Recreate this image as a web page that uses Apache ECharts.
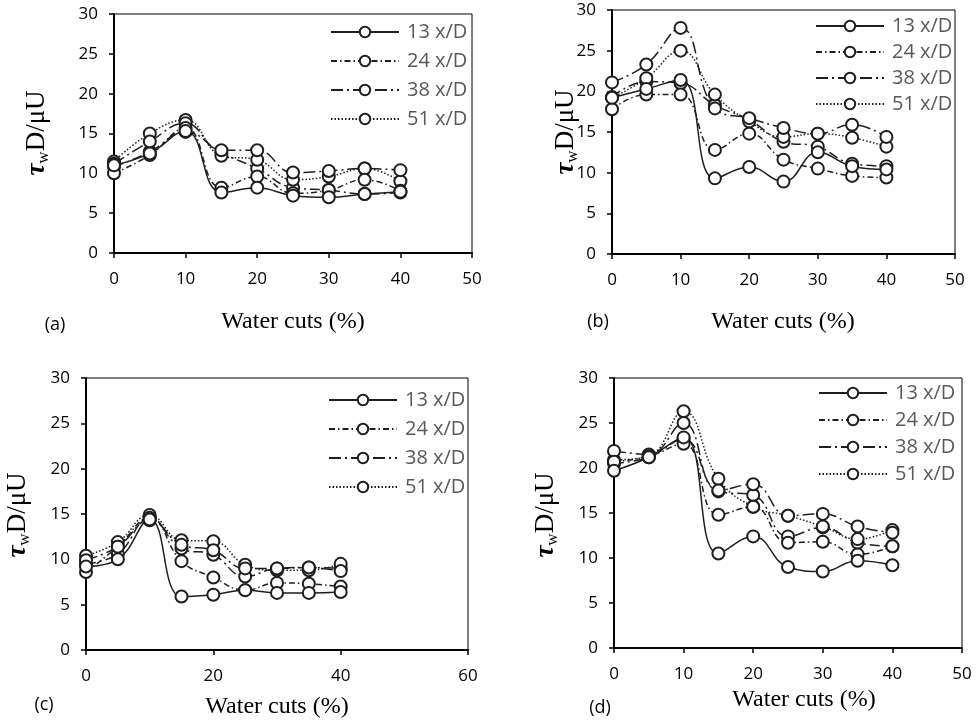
<!DOCTYPE html>
<html>
<head>
<meta charset="utf-8">
<script src="https://cdn.jsdelivr.net/npm/echarts@6/dist/echarts.min.js"></script>
<style>
  html, body { margin: 0; padding: 0; background: #fff; }
  #chart { width: 977px; height: 722px; }
</style>
</head>
<body>
<div id="chart"></div>
<script>
// x values (water cut, %)
const waterCuts = [0, 5, 10, 15, 20, 25, 30, 35, 40];
const seriesNames = ["13 x/D", "24 x/D", "38 x/D", "51 x/D"];
const yTicks = [0, 5, 10, 15, 20, 25, 30];

// panel (a)
const a13 = [11.0, 12.5, 15.3, 7.6, 8.2, 7.2, 7.0, 7.4, 7.7];
const a24 = [10.0, 12.3, 15.7, 8.2, 9.6, 7.5, 7.9, 9.2, 7.8];
const a38 = [11.2, 14.0, 16.3, 12.9, 12.9, 10.1, 10.3, 10.6, 10.4];
const a51 = [11.5, 15.0, 16.7, 12.2, 11.7, 9.2, 9.6, 10.6, 9.0];
const aX = [10.8, 12.7, 15.2, 12.6, 10.6, 8.2, 7.9, 7.4, 7.6];

// panel (b)
const b13 = [19.2, 20.3, 21.4, 9.3, 10.7, 8.9, 12.5, 10.8, 10.4];
const b24 = [17.8, 19.6, 19.6, 12.8, 14.8, 11.6, 10.5, 9.6, 9.4];
const b38 = [21.1, 23.3, 27.8, 17.9, 16.7, 15.5, 14.8, 15.9, 14.4];
const b51 = [19.2, 21.6, 25.0, 19.6, 16.3, 14.4, 14.8, 14.3, 13.2];
const bX = [19.3, 21.2, 21.0, 18.3, 16.5, 13.8, 13.2, 11.1, 10.8];

// panel (c)
const c13 = [9.2, 10.0, 14.4, 5.9, 6.1, 6.6, 6.3, 6.3, 6.4];
const c24 = [8.6, 11.4, 14.6, 9.8, 8.0, 6.6, 7.4, 7.3, 7.0];
const c38 = [9.9, 11.4, 14.3, 11.6, 11.0, 9.0, 9.0, 9.1, 8.7];
const c51 = [10.4, 11.9, 14.9, 12.1, 12.0, 9.4, 8.8, 8.8, 9.5];
const cX = [9.5, 10.6, 14.5, 11.2, 10.5, 8.1, 9.0, 9.1, 9.0];

// panel (d)
const d13 = [19.7, 21.2, 23.4, 10.5, 12.4, 9.0, 8.5, 9.7, 9.2];
const d24 = [20.7, 21.3, 22.7, 14.8, 15.7, 11.7, 11.8, 10.4, 11.3];
const d38 = [21.9, 21.5, 25.0, 17.5, 18.2, 14.7, 14.9, 13.5, 12.8];
const d51 = [20.9, 21.3, 26.3, 18.8, 15.7, 14.7, 13.5, 12.1, 13.1];
const dX = [20.5, 21.2, 23.2, 17.4, 17.0, 12.4, 13.4, 11.7, 11.3];

const ink = "#1e1e1e";
const dashes = ["solid", [6, 3, 1.5, 3], [12, 4, 2, 4], [1.5, 2], [10, 4, 2, 4]];

const panels = [
  { grid: { left: 114, top: 14, width: 358, height: 239 }, xMax: 50, xStep: 10, data: [a13, a24, a38, a51, aX],
    legend: { left: 325, top: 17, gap: 9 } },
  { grid: { left: 612, top: 10, width: 343, height: 244 }, xMax: 50, xStep: 10, data: [b13, b24, b38, b51, bX],
    legend: { left: 810, top: 11, gap: 6 } },
  { grid: { left: 86, top: 378, width: 382, height: 272 }, xMax: 60, xStep: 20, data: [c13, c24, c38, c51, cX],
    legend: { left: 323, top: 385, gap: 9 } },
  { grid: { left: 614, top: 378, width: 348, height: 270 }, xMax: 50, xStep: 10, data: [d13, d24, d38, d51, dX],
    legend: { left: 813, top: 378, gap: 7 } }
];

const tickFont = { fontFamily: "Open Sans", fontSize: 17, color: "#000" };

const option = {
  animation: false,
  backgroundColor: "#fff",
  grid: [],
  xAxis: [],
  yAxis: [],
  legend: [],
  series: [],
  graphic: []
};

panels.forEach((p, i) => {
  option.grid.push(Object.assign({ show: true, borderColor: "#000", borderWidth: 1 }, p.grid));
  option.xAxis.push({
    gridIndex: i, type: "value", min: 0, max: p.xMax, interval: p.xStep,
    axisLine: { onZero: false, lineStyle: { color: "#000", width: 2 } },
    axisTick: { show: true, inside: false, length: 5, lineStyle: { color: "#000", width: 1.5 } },
    axisLabel: Object.assign({ margin: 18 }, tickFont),
    splitLine: { show: false }
  });
  option.yAxis.push({
    gridIndex: i, type: "value", min: yTicks[0], max: yTicks[yTicks.length - 1], interval: 5,
    axisLine: { show: true, onZero: false, lineStyle: { color: "#000", width: 2 } },
    axisTick: { show: true, inside: false, length: 5, lineStyle: { color: "#000", width: 1.5 } },
    axisLabel: Object.assign({ margin: 16 }, tickFont),
    splitLine: { show: false }
  });
  p.data.forEach((vals, k) => {
    option.series.push({
      name: k < 4 ? seriesNames[k] : "other",
      type: "line",
      xAxisIndex: i, yAxisIndex: i,
      data: waterCuts.map((x, j) => [x, vals[j]]),
      smooth: 0.45,
      symbol: "emptyCircle",
      symbolSize: 12,
      itemStyle: { color: ink, borderColor: ink, borderWidth: 1.6 },
      lineStyle: { color: ink, width: 1.5, type: dashes[k] },
      z: 5 - k
    });
  });
  option.legend.push({
    data: seriesNames,
    orient: "vertical",
    left: p.legend.left, top: p.legend.top,
    itemWidth: 68, itemHeight: 13, itemGap: p.legend.gap,
    textStyle: { fontFamily: "Open Sans", fontSize: 20, color: "#595959", padding: [0, 0, 0, 3] },
    selectedMode: false
  });
});

// axis titles and panel letters
const serif = "Liberation Serif";
const yName = (x, y) => ({
  type: "text", x: x, y: y, rotation: Math.PI / 2,
  style: {
    text: "{t|τ}{s|w}{n|D/μU}",
    align: "center", verticalAlign: "middle",
    rich: {
      t: { fontFamily: serif, fontSize: 27, fontWeight: "bold", fontStyle: "italic", fill: "#000", lineHeight: 30 },
      s: { fontFamily: serif, fontSize: 17, fill: "#000", lineHeight: 30, verticalAlign: "bottom", padding: [8, 0, 0, 0] },
      n: { fontFamily: serif, fontSize: 27, fill: "#000", lineHeight: 30 }
    }
  }
});
const xName = (x, y) => ({
  type: "text", x: x, y: y,
  style: { text: "Water cuts (%)", fontFamily: serif, fontSize: 24, fill: "#000", align: "center", verticalAlign: "middle" }
});
const letter = (t, x, y) => ({
  type: "text", x: x, y: y,
  style: { text: t, fontFamily: "Open Sans", fontSize: 18, fill: "#000", align: "center", verticalAlign: "middle" }
});

option.graphic.push(
  yName(37, 133), yName(566, 132), yName(18, 515), yName(546, 515),
  xName(293, 322), xName(783, 322), xName(277, 707), xName(804, 700),
  letter("(a)", 55, 325), letter("(b)", 598, 322), letter("(c)", 44, 705), letter("(d)", 600, 708)
);

const chart = echarts.init(document.getElementById("chart"));
chart.setOption(option);
</script>
</body>
</html>
